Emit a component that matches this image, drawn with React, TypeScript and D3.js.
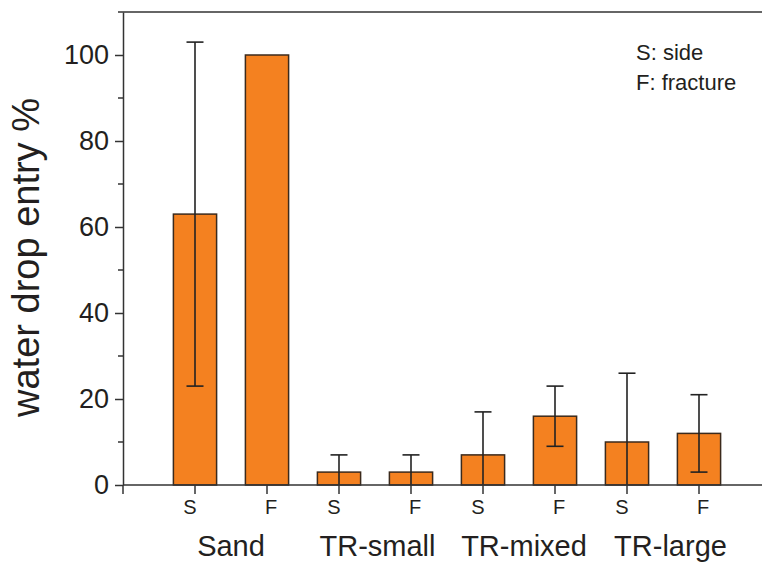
import React, { useEffect, useRef } from 'react';
import * as d3 from 'd3';

const groups = ['Sand', 'TR-small', 'TR-mixed', 'TR-large'];
const sides = ['S', 'F'];
const means = [63, 100, 3, 3, 7, 16, 10, 12];
const errors = [40, 0, 4, 4, 10, 7, 16, 9];
const yTicks = [0, 20, 40, 60, 80, 100];
const yMinorTicks = [10, 30, 50, 70, 90, 110];
const legendLines = ['S: side', 'F: fracture'];

const W = 762;
const H = 568;
const FONT = '"Liberation Sans", Arial, sans-serif';
const INK = '#231f20';

const App = () => {
  const ref = useRef<SVGSVGElement | null>(null);

  useEffect(() => {
    if (!ref.current) return;
    const svg = d3.select(ref.current);
    svg.selectAll('*').remove();

    const left = 123, top = 12, bottom = 485;
    const x = d3.scaleLinear().domain([0, 8.875]).range([left, W]);
    const y = d3.scaleLinear().domain([0, 110]).range([bottom, top]);

    const rows = means.map((m, i) => ({
      pos: i + 1,
      side: sides[i % 2],
      mean: m,
      err: errors[i],
    }));
    const barW = x(0.6) - x(0);

    // frame: top line
    svg.append('line')
      .attr('x1', left).attr('x2', W).attr('y1', top).attr('y2', top)
      .attr('stroke', '#333').attr('stroke-width', 1.5);

    // bars
    svg.append('g').selectAll('rect')
      .data(rows)
      .join('rect')
      .attr('x', d => x(d.pos) - barW / 2)
      .attr('y', d => y(d.mean))
      .attr('width', barW)
      .attr('height', d => y(0) - y(d.mean))
      .attr('fill', '#f48120')
      .attr('stroke', '#3b2a1c')
      .attr('stroke-width', 1.5);

    // error bars
    const eb = svg.append('g').attr('stroke', '#222').attr('stroke-width', 1.6);
    rows.filter(d => d.err > 0).forEach(d => {
      const cx = x(d.pos);
      const hi = d.mean + d.err;
      const lo = Math.max(0, d.mean - d.err);
      eb.append('line').attr('x1', cx).attr('x2', cx).attr('y1', y(hi)).attr('y2', y(lo));
      eb.append('line').attr('x1', cx - 8.5).attr('x2', cx + 8.5).attr('y1', y(hi)).attr('y2', y(hi));
      if (d.mean - d.err > 0) {
        eb.append('line').attr('x1', cx - 8.5).attr('x2', cx + 8.5).attr('y1', y(lo)).attr('y2', y(lo));
      }
    });

    // y axis
    const yAxis = svg.append('g')
      .attr('transform', `translate(${left},0)`)
      .call(d3.axisLeft(y).tickValues(yTicks).tickSize(8).tickSizeOuter(0).tickPadding(6));
    yAxis.select('.domain').attr('stroke', '#333').attr('stroke-width', 1.5);
    yAxis.selectAll('.tick line').attr('stroke', '#333').attr('stroke-width', 1.5);
    yAxis.selectAll('.tick text')
      .attr('font-family', FONT).attr('font-size', 27).attr('fill', INK).attr('dy', '0.3em');
    yAxis.attr('font-family', null).attr('font-size', null);

    svg.append('g').selectAll('line')
      .data(yMinorTicks)
      .join('line')
      .attr('x1', left - 5).attr('x2', left)
      .attr('y1', d => y(d)).attr('y2', d => y(d))
      .attr('stroke', '#333').attr('stroke-width', 1.5);

    // x axis
    svg.append('line')
      .attr('x1', left).attr('x2', W).attr('y1', bottom).attr('y2', bottom)
      .attr('stroke', '#333').attr('stroke-width', 1.5);
    svg.append('g').selectAll('line')
      .data([0, ...rows.map(d => d.pos)])
      .join('line')
      .attr('x1', d => x(d)).attr('x2', d => x(d))
      .attr('y1', bottom).attr('y2', bottom + 9)
      .attr('stroke', '#333').attr('stroke-width', 1.5);

    svg.append('g').selectAll('text')
      .data(rows)
      .join('text')
      .attr('x', d => x(d.pos) + (d.side === 'S' ? -5 : 4))
      .attr('y', 514)
      .attr('text-anchor', 'middle')
      .attr('font-family', FONT).attr('font-size', 20).attr('fill', INK)
      .text(d => d.side);

    svg.append('g').selectAll('text')
      .data(groups)
      .join('text')
      .attr('x', (d, i) => x(i * 2 + 1.5) + i * 2.5)
      .attr('y', 556)
      .attr('text-anchor', 'middle')
      .attr('font-family', FONT).attr('font-size', 29).attr('fill', INK)
      .text(d => d);

    // y label
    svg.append('text')
      .attr('transform', `translate(39,${(95 + 420) / 2}) rotate(-90)`)
      .attr('text-anchor', 'middle')
      .attr('font-family', FONT).attr('font-size', 38).attr('fill', INK)
      .text('water drop entry %');

    // legend note
    svg.append('g').selectAll('text')
      .data(legendLines)
      .join('text')
      .attr('x', 636)
      .attr('y', (d, i) => 60 + i * 30)
      .attr('font-family', FONT).attr('font-size', 22).attr('fill', INK)
      .text(d => d);
  }, []);

  return (
    <svg
      ref={ref}
      width={W}
      height={H}
      style={{ position: 'absolute', left: 0, top: 0, background: '#fff' }}
    />
  );
};

export default App;
